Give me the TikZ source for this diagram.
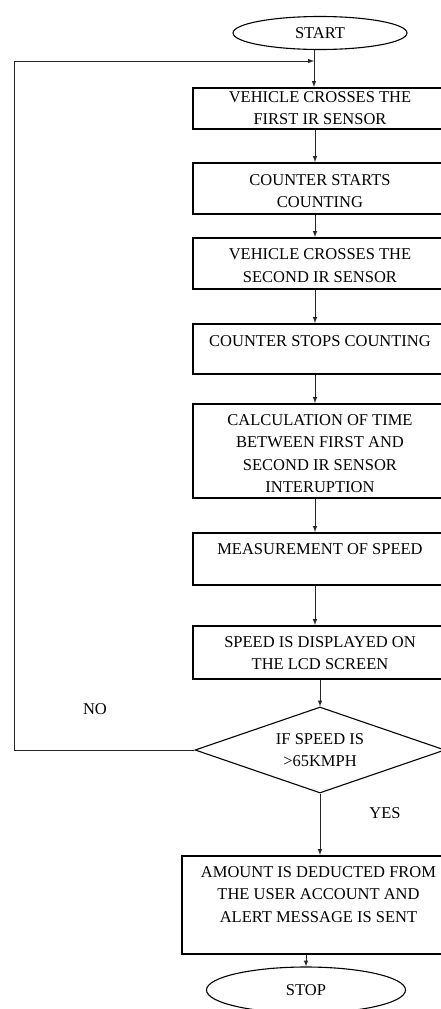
\documentclass[tikz,border=0pt]{standalone}
\usepackage{fontspec}
\setmainfont{Liberation Serif}
\usetikzlibrary{positioning,arrows,shapes}
\newcommand{\chartfont}{\fontsize{16.5}{22.5}\selectfont}
\newcommand{\boxtext}[3][10.5]{\parbox[c][#2pt][t]{250pt}{\centering\vspace*{#1pt}#3}}
\tikzset{
  stepbox/.style={draw, rectangle, line width=1.6pt, minimum width=254pt, inner sep=0pt, anchor=north},
  ends/.style={draw, ellipse, line width=1.1pt, inner sep=0pt, font=\chartfont},
  test/.style={draw, diamond, aspect=2.9, line width=1.1pt, inner sep=0pt, minimum width=250pt, minimum height=86pt, align=center, font=\chartfont},
  flow/.style={-latex, line width=1pt, black!85},
}

\begin{document}
\begin{tikzpicture}[x=1pt, y=-1pt]
\useasboundingbox (0,0) rectangle (441,1009);
\clip (0,0) rectangle (441,1009);
\node[ends, minimum width=174pt, minimum height=33pt] (start) at (320,33) {START};
\node[stepbox] (box1) at (320,87) {\chartfont\boxtext[3.5]{41}{VEHICLE CROSSES THE\\FIRST IR SENSOR}};
\node[stepbox] (box2) at (320,162) {\chartfont\boxtext[11.5]{51}{COUNTER STARTS\\COUNTING}};
\node[stepbox] (box3) at (320,237) {\chartfont\boxtext[11]{51}{VEHICLE CROSSES THE\\SECOND IR SENSOR}};
\node[stepbox] (box4) at (320,323) {\chartfont\boxtext[11.5]{50}{COUNTER STOPS COUNTING}};
\node[stepbox] (box5) at (320,403) {\chartfont\boxtext{94}{CALCULATION OF TIME\\BETWEEN FIRST AND\\SECOND IR SENSOR\\INTERUPTION}};
\node[stepbox] (box6) at (320,532) {\chartfont\boxtext{52}{MEASUREMENT OF SPEED}};
\node[stepbox] (box7) at (320,625) {\chartfont\boxtext{53}{SPEED IS DISPLAYED ON\\THE LCD SCREEN}};
\node[test] (test) at (320,750) {IF SPEED IS\\>65KMPH};
\node[stepbox, minimum width=273pt] (box8) at (318.5,855) {\chartfont\boxtext{98}{AMOUNT IS DEDUCTED FROM\\THE USER ACCOUNT AND\\ALERT MESSAGE IS SENT}};
\node[ends, minimum width=199pt, minimum height=46pt] (stop) at (306,990) {STOP};
\node[font=\chartfont] (no) at (95,709) {NO};
\node[font=\chartfont] (yes) at (385,813) {YES};

% connectors
\coordinate (top) at (314,61);
\coordinate (edge) at (14,61);
\coordinate (spine) at (315,0);
\draw[flow] (start.south -| top) -- (box1.north -| top);
\draw[flow] (test.west) -| (edge) -- (top);
\draw[flow] (box1.south -| spine) -- (box2.north -| spine);
\draw[flow] (box2.south -| spine) -- (box3.north -| spine);
\draw[flow] (box3.south -| spine) -- (box4.north -| spine);
\draw[flow] (box4.south -| spine) -- (box5.north -| spine);
\draw[flow] (box5.south -| spine) -- (box6.north -| spine);
\draw[flow] (box6.south -| spine) -- (box7.north -| spine);
\draw[flow] (box7.south) -- (test.north);
\draw[flow] (test.south) -- (box8.north -| test.south);
\draw[flow] (box8.south -| stop) -- (stop.north);
\end{tikzpicture}
\end{document}
